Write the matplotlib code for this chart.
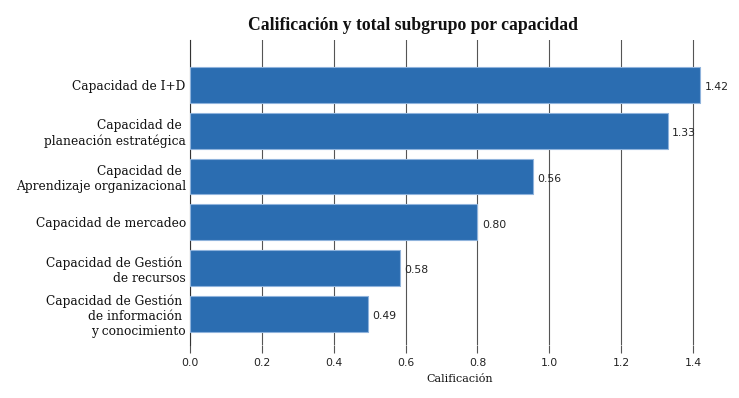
import numpy as np
from matplotlib import pyplot as plt

categorias = ['Capacidad de I+D',
              'Capacidad de \nplaneación estratégica',
              'Capacidad de \nAprendizaje organizacional',
              'Capacidad de mercadeo',
              'Capacidad de Gestión \nde recursos',
              'Capacidad de Gestión \nde información \ny conocimiento']
valores = [1.42, 1.33, 0.955, 0.80, 0.585, 0.495]
etiquetas = ['1.42', '1.33', '0.56', '0.80', '0.58', '0.49']
ticks = [0.0, 0.2, 0.4, 0.6, 0.8, 1.0, 1.2, 1.4]

fig = plt.figure(figsize=(7.39, 3.98), dpi=100)
ax = fig.add_axes([190 / 739, 1 - 345 / 398, 539 / 739, 305 / 398])

y = np.arange(len(categorias))
ax.barh(y, valores, height=0.78, color='#2b6db1', edgecolor='#8fb3dc', linewidth=0.8, zorder=3)
for i in range(len(valores)):
    ax.text(valores[i] + 0.012, y[i] + 0.05, etiquetas[i], va='center', ha='left',
            fontsize=7.8, family='DejaVu Sans', color='#222222', zorder=4)

ax.set_xlim(0, 1.5)
ax.set_ylim(5.68, -0.98)
ax.set_xticks(ticks)
ax.set_xticklabels(['%.1f' % t for t in ticks], fontsize=7.8, family='DejaVu Sans', color='#222222')
ax.set_yticks(y)
ax.set_yticklabels(categorias, fontsize=8.8, family='DejaVu Serif', color='#111111', linespacing=1.2)
ax.tick_params(axis='y', length=0, pad=3)
ax.tick_params(axis='x', length=6, color='#555555', width=0.8, pad=3)
ax.grid(axis='x', color='#555555', linewidth=0.8, zorder=0)
for s in ['top', 'right', 'bottom']:
    ax.spines[s].set_visible(False)
ax.spines['left'].set_color('#333333')
ax.spines['left'].set_linewidth(0.8)

ax.set_xlabel('Calificación', fontsize=8, family='DejaVu Serif', color='#111111', labelpad=5)
fig.text(413 / 739, 1 - 25 / 398, 'Calificación y total subgrupo por capacidad', ha='center', va='center',
         fontsize=12.7, family='Liberation Serif', weight='bold', color='#111111')

plt.savefig('out.png', dpi=100)
